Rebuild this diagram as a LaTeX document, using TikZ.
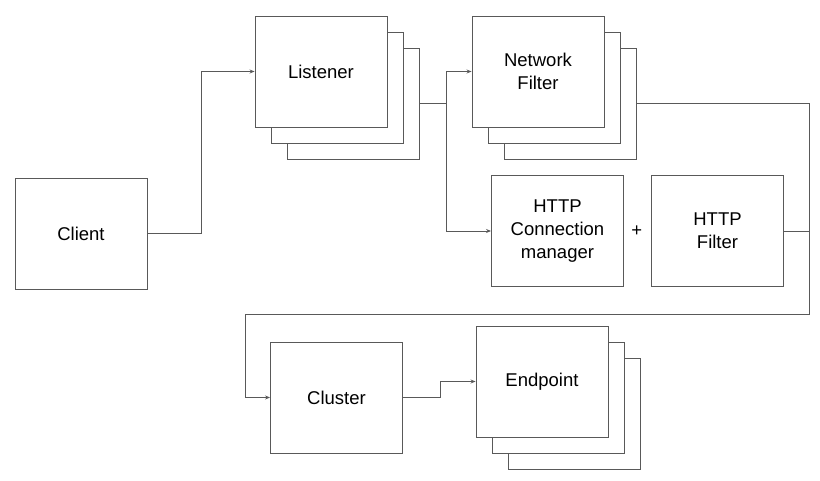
\documentclass[tikz,border=0pt]{standalone}
\usepackage{fontspec}
\setmainfont{Liberation Sans}
\usetikzlibrary{positioning,arrows.meta}

\begin{document}
\begin{tikzpicture}[x=1pt,y=-1pt,>={Stealth[length=5pt,width=4pt]},
	every node/.style={font=\fontsize{18.5}{23}\selectfont},
	box/.style={shape=rectangle,draw=black!65,fill=white,line width=0.9pt,minimum width=132pt,minimum height=111pt,inner sep=0pt,align=center},
	link/.style={draw=black!65,line width=0.9pt}]
		\useasboundingbox (0,0) rectangle (820,481);
		% create the nodes
		\node (client) [box] at (81,233.5) {Client};
		\node (lis3) [box] at (353,103.5) {};
		\node (lis2) [box] at (337,87.5) {};
		\node (lis) [box] at (321,71.5) {Listener};
		\node (nf3) [box] at (570,103.5) {};
		\node (nf2) [box] at (554,87.5) {};
		\node (nf) [box] at (538,71.5) {Network\\Filter};
		\node (hcm) [box] at (557.5,231) {HTTP\\Connection\\manager};
		\node (plus) [right =4pt of hcm] {+};
		\node (hf) [box] at (717.5,231) {HTTP\\Filter};
		\node (cl) [box] at (336.5,397.5) {Cluster};
		\node (ep3) [box] at (574,413.5) {};
		\node (ep2) [box] at (558,397.5) {};
		\node (ep) [box] at (542,381.5) {Endpoint};
		\coordinate (bend) at (809,314);
		\coordinate (back) at (245,314);
		
		% connect the nodes
		\draw[link,->] (client.east) -- ++(54,0) |- (lis);
		\draw[link,->] (lis3.east) -- ++(27,0) |- (nf);
		\draw[link,->] (lis3.east) -- ++(27,0) |- (hcm);
		\draw[link] (hf) -| (bend);
		\draw[link,->] (nf3.east) -| (bend) -- (back) |- (cl);
		\draw[link,->] (cl.east) -- ++(37,0) |- (ep);
	\end{tikzpicture}
\end{document}
